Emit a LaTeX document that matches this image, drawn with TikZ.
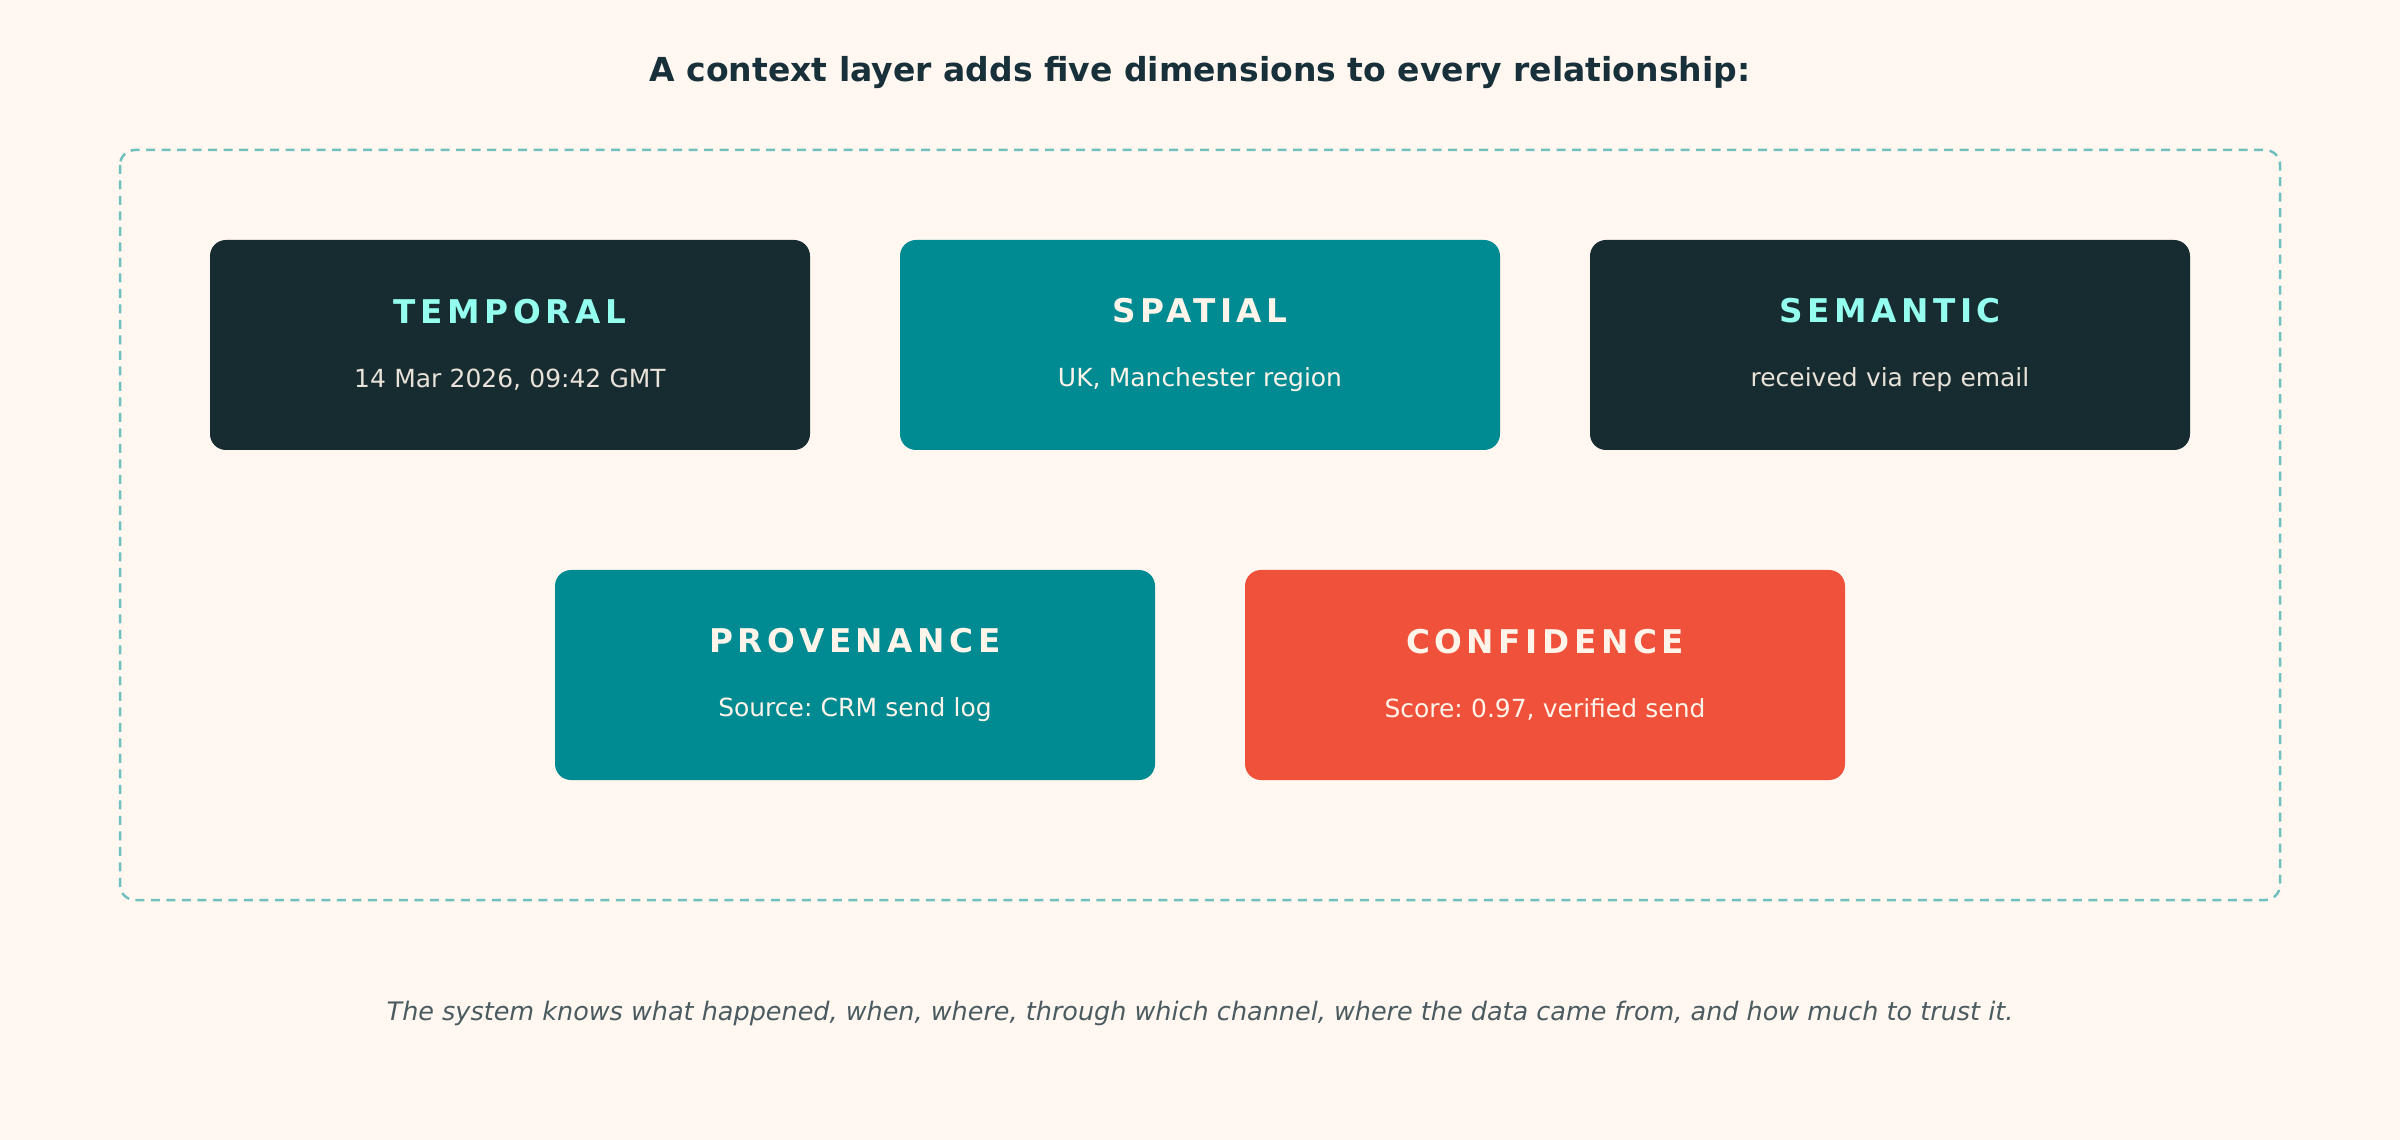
\documentclass[tikz,border=0pt]{standalone}
\usepackage{fontspec}
\setmainfont{DejaVu Sans}
\newfontfamily\spacedfont{DejaVu Sans}[LetterSpace=14]
\usetikzlibrary{positioning}
\frenchspacing
\definecolor{Cream}{HTML}{FFF7F0}
\definecolor{Ink}{HTML}{172C31}
\definecolor{Lagoon}{HTML}{008A91}
\definecolor{Ember}{HTML}{F0513A}
\definecolor{Aqua}{HTML}{95FFEF}
\definecolor{Shell}{HTML}{FFF4EA}
\definecolor{Sand}{HTML}{E9E2D8}
\definecolor{Frame}{HTML}{6FC0BE}
\definecolor{HeadInk}{HTML}{17303A}
\definecolor{Slate}{HTML}{4A5B61}
\newcommand{\dimhead}[1]{{\spacedfont\bfseries\fontsize{9.3}{11}\selectfont #1}}

\begin{document}
\begin{tikzpicture}[x=0.1mm,y=-0.1mm,node distance=9mm,
    dim/.style={rounded corners=1.6mm,minimum width=60mm,minimum height=21mm,
                text width=56mm,align=center,inner sep=0pt,outer sep=0pt,
                font=\fontsize{7.1}{8.5}\selectfont},
    frame/.style={draw=Frame,line width=0.25mm,dash pattern=on 0.9mm off 0.65mm,
                  rounded corners=1.5mm}]
    \fill[Cream] (0,0) rectangle (2400,1140);
    \useasboundingbox (0,0) rectangle (2400,1140);
    \node[font=\bfseries\fontsize{9.4}{11}\selectfont,text=HeadInk] (title) at (1200,73)
        {A context layer adds five dimensions to every relationship:};
    \draw[frame] (120,150) rectangle (2280,900);
    % top row
    \node[dim,fill=Ink,text=Sand] (temporal) at (510,345)
        {\textcolor{Aqua}{\dimhead{TEMPORAL}}\\[9.8pt]14 Mar 2026, 09:42 GMT};
    \node[dim,fill=Lagoon,text=Shell,right=of temporal] (spatial)
        {\dimhead{SPATIAL}\\[9.8pt]UK, Manchester region};
    \node[dim,fill=Ink,text=Sand,right=of spatial] (semantic)
        {\textcolor{Aqua}{\dimhead{SEMANTIC}}\\[9.8pt]received via rep email};
    % bottom row
    \node[dim,fill=Lagoon,text=Shell] (provenance) at (855,675)
        {\dimhead{PROVENANCE}\\[9.8pt]Source: CRM send log};
    \node[dim,fill=Ember,text=Shell,right=of provenance] (confidence)
        {\dimhead{CONFIDENCE}\\[9.8pt]Score: 0.97, verified send};
    \node[font=\itshape\fontsize{7.25}{8.5}\selectfont,text=Slate] (note) at (1200,1013)
        {The system knows what happened, when, where, through which channel, where the data came from, and how much to trust it.};
\end{tikzpicture}
\end{document}
